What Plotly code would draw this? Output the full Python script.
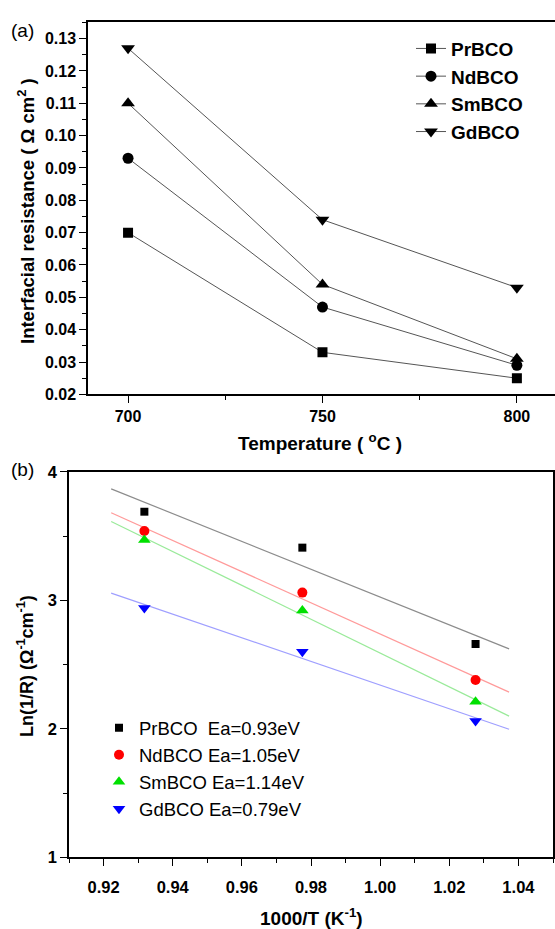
import numpy as np
import plotly.graph_objects as go

# Panel (a): interfacial resistance vs temperature
temperature = [700, 750, 800]
series = ["PrBCO", "NdBCO", "SmBCO", "GdBCO"]
resistance = {
    "PrBCO": [0.070, 0.033, 0.025],
    "NdBCO": [0.093, 0.047, 0.029],
    "SmBCO": [0.110, 0.054, 0.031],
    "GdBCO": [0.127, 0.074, 0.053],
}

# Panel (b): Arrhenius plot
inv_t = [0.9318, 0.9775, 1.0276]
ln_inv_r = {
    "PrBCO": [3.69, 3.41, 2.66],
    "NdBCO": [3.54, 3.06, 2.38],
    "SmBCO": [3.47, 2.92, 2.21],
    "GdBCO": [2.94, 2.60, 2.06],
}
activation = {"PrBCO": "0.93", "NdBCO": "1.05", "SmBCO": "1.14", "GdBCO": "0.79"}
fit_span = [0.9222, 1.0373]

symbols_a = {"PrBCO": "square", "NdBCO": "circle", "SmBCO": "triangle-up", "GdBCO": "triangle-down"}
sizes_a = {"PrBCO": 10, "NdBCO": 11, "SmBCO": 12, "GdBCO": 12}
colors_b = {"PrBCO": "black", "NdBCO": "red", "SmBCO": "#00e000", "GdBCO": "blue"}
fit_colors = {"PrBCO": "#8c8c8c", "NdBCO": "#ff9a9a", "SmBCO": "#9aea9a", "GdBCO": "#9f9fff"}
sizes_b = {"PrBCO": 8, "NdBCO": 10, "SmBCO": 11, "GdBCO": 11}

FONT = "Liberation Sans, Arial, sans-serif"
H = 929.0
W = 555.0

fig = go.Figure()

for s in series:
    fig.add_trace(go.Scatter(
        x=temperature, y=resistance[s], name=s, mode="lines+markers",
        line=dict(color="#555555", width=1),
        marker=dict(symbol=symbols_a[s], size=sizes_a[s], color="black"),
        xaxis="x", yaxis="y", legend="legend",
    ))

for s in series:
    slope, icpt = np.polyfit(inv_t, ln_inv_r[s], 1)
    xs = np.array(fit_span)
    fig.add_trace(go.Scatter(
        x=xs, y=slope * xs + icpt, mode="lines", showlegend=False,
        line=dict(color=fit_colors[s], width=1.2),
        xaxis="x2", yaxis="y2",
    ))

for s in series:
    fig.add_trace(go.Scatter(
        x=inv_t, y=ln_inv_r[s], mode="markers",
        name=f"{s}{'  ' if s == 'PrBCO' else ' '}Ea={activation[s]}eV",
        marker=dict(symbol=symbols_a[s], size=sizes_b[s], color=colors_b[s]),
        xaxis="x2", yaxis="y2", legend="legend2",
    ))


def axis_common(fs):
    return dict(
        showline=True, linecolor="black", linewidth=1.5, ticks="outside",
        ticklen=7, tickwidth=1.3, tickcolor="black", showgrid=False, zeroline=False,
        tickfont=dict(family=FONT, size=fs, color="black", weight="bold"),
    )


fig.update_layout(
    width=555, height=929,
    margin=dict(l=0, r=0, t=0, b=0),
    paper_bgcolor="white", plot_bgcolor="white",
    xaxis=dict(
        **axis_common(16), domain=[88 / W, 1.0], range=[689.7, 809.8],
        tickvals=[700, 750, 800], mirror=True, anchor="y",
        minor=dict(tickvals=[725, 775], ticks="outside", ticklen=4, tickcolor="black"),
    ),
    yaxis=dict(
        **axis_common(16), domain=[1 - 393 / H, 1 - 13 / H], range=[0.02, 0.1352],
        dtick=0.01, tick0=0.02, tickformat=".2f", anchor="x",
        minor=dict(dtick=0.005, tick0=0.02, ticks="outside", ticklen=4, tickcolor="black"),
    ),
    xaxis2=dict(
        **axis_common(16.5), domain=[69 / W, 553 / W], range=[0.91, 1.05],
        dtick=0.02, tick0=0.92, tickformat=".2f", mirror=True, anchor="y2",
        ticklabelstandoff=7,
        minor=dict(dtick=0.01, tick0=0.91, ticks="outside", ticklen=4, tickcolor="black"),
    ),
    yaxis2=dict(
        **axis_common(16.5), domain=[1 - 865 / H, 1 - 472 / H], range=[1, 4],
        dtick=1, tick0=1, mirror=True, anchor="x2",
        minor=dict(dtick=0.5, tick0=1, ticks="outside", ticklen=4, tickcolor="black"),
    ),
    legend=dict(
        x=411 / W, y=1 - 21 / H, xanchor="left", yanchor="top",
        bgcolor="rgba(0,0,0,0)", tracegroupgap=0, itemwidth=30,
        font=dict(family=FONT, size=19, color="black", weight="bold"),
    ),
    legend2=dict(
        x=99 / W, y=1 - 714 / H, xanchor="left", yanchor="top",
        bgcolor="rgba(0,0,0,0)", tracegroupgap=0, itemwidth=30,
        font=dict(family=FONT, size=18.5, color="black"),
    ),
    showlegend=True,
)

annotations = [
    dict(text="(a)", x=9 / W, y=1 - 22 / H, xanchor="left", yanchor="middle",
         font=dict(family=FONT, size=19, color="black")),
    dict(text="(b)", x=9 / W, y=1 - 470 / H, xanchor="left", yanchor="middle",
         font=dict(family=FONT, size=19, color="black")),
    dict(text="<b>Interfacial resistance ( Ω cm<sup>2</sup> )</b>", x=26 / W, y=1 - 206 / H,
         xanchor="center", yanchor="middle", textangle=-90,
         font=dict(family=FONT, size=18.5, color="black")),
    dict(text="<b>Temperature ( <sup>o</sup>C )</b>", x=320 / W, y=1 - 442 / H,
         xanchor="center", yanchor="middle",
         font=dict(family=FONT, size=19, color="black")),
    dict(text="<b>Ln(1/R) (Ω<sup>-1</sup>cm<sup>-1</sup>)</b>", x=25 / W, y=1 - 670 / H,
         xanchor="center", yanchor="middle", textangle=-90,
         font=dict(family=FONT, size=18, color="black")),
    dict(text="<b>1000/T (K<sup>-1</sup>)</b>", x=311 / W, y=1 - 926 / H,
         xanchor="center", yanchor="middle",
         font=dict(family=FONT, size=19, color="black")),
]
for a in annotations:
    a.update(xref="paper", yref="paper", showarrow=False)
fig.update_layout(annotations=annotations)

fig.write_html("out.html")
